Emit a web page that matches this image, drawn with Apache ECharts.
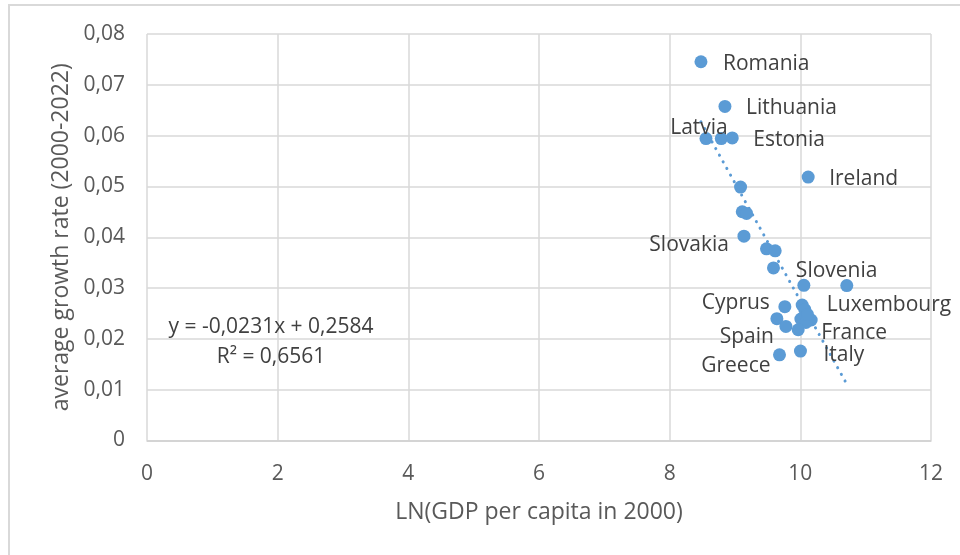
<!DOCTYPE html>
<html>
<head>
<meta charset="utf-8">
<script src="https://cdn.jsdelivr.net/npm/echarts@6/dist/echarts.min.js"></script>
<style>
html,body{margin:0;padding:0;background:#fff;}
#chart{width:960px;height:555px;}
</style>
</head>
<body>
<div id="chart"></div>
<script>
// LN(GDP per capita in 2000)
const xValues = [8.479, 8.846, 8.556, 8.790, 8.958, 10.120, 9.085, 9.111, 9.177, 9.137,
  9.482, 9.615, 9.589, 10.054, 10.711, 9.763, 10.028, 10.069, 9.641, 9.779,
  10.008, 10.166, 10.085, 9.967, 10.002, 9.681, 10.110];
// average growth rate (2000-2022)
const yValues = [0.07454, 0.06574, 0.05942, 0.05942, 0.05954, 0.05185, 0.04987, 0.04502, 0.04469, 0.04021,
  0.03772, 0.03733, 0.03397, 0.03054, 0.03048, 0.02634, 0.02667, 0.02575, 0.02397, 0.02245,
  0.02391, 0.02371, 0.02324, 0.02180, 0.01760, 0.01687, 0.02480];
const countryLabels = ['Romania', 'Lithuania', 'Latvia', '', 'Estonia', 'Ireland', '', '', '', 'Slovakia',
  '', '', '', 'Slovenia', 'Luxembourg', 'Cyprus', '', '', '', 'Spain',
  '', 'France', '', '', 'Italy', 'Greece', ''];
// trendline end points
const trendX = [8.479, 10.711];
const trendY = [0.0627, 0.0111];
const xTicks = ['0', '2', '4', '6', '8', '10', '12'];
const yTicks = ['0', '0,01', '0,02', '0,03', '0,04', '0,05', '0,06', '0,07', '0,08'];
const equationText = 'y = -0,0231x + 0,2584';
const r2Text = 'R² = 0,6561';

// label placement relative to the point centre (style only)
const labelPlace = {
  'Romania':   {align: 'left',   off: [22, 2]},
  'Lithuania': {align: 'left',   off: [21, 2]},
  'Latvia':    {align: 'center', off: [-7, -11]},
  'Estonia':   {align: 'left',   off: [21, 2]},
  'Ireland':   {align: 'left',   off: [21, 2]},
  'Slovakia':  {align: 'right',  off: [-15, 9]},
  'Slovenia':  {align: 'left',   off: [-8, -14]},
  'Luxembourg':{align: 'left',   off: [-20, 19]},
  'Cyprus':    {align: 'right',  off: [-15, -4]},
  'Spain':     {align: 'right',  off: [-12, 11]},
  'France':    {align: 'left',   off: [10, 13]},
  'Italy':     {align: 'left',   off: [23, 4]},
  'Greece':    {align: 'right',  off: [-9, 11]}
};

const FONT = 'Open Sans';
const SYM = 13;
const scatterData = xValues.map((x, i) => {
  const name = countryLabels[i];
  const item = {value: [x, yValues[i]], name: name};
  if (name) {
    const p = labelPlace[name];
    item.label = {
      show: true,
      formatter: name,
      position: [SYM / 2 + p.off[0], SYM / 2 + p.off[1]],
      align: p.align,
      verticalAlign: 'middle',
      color: '#404040',
      fontSize: 21,
      fontFamily: FONT
    };
  }
  return item;
});

const chart = echarts.init(document.getElementById('chart'), null, {renderer: 'canvas'});
chart.setOption({
  backgroundColor: '#fff',
  animation: false,
  grid: {left: 147, right: 29, top: 34, bottom: 114.5},
  xAxis: {
    type: 'value', min: 0, max: 12, interval: 2,
    name: 'LN(GDP per capita in 2000)',
    nameLocation: 'middle', nameGap: 60,
    nameTextStyle: {color: '#595959', fontSize: 23, fontFamily: FONT},
    axisLine: {show: true, lineStyle: {color: '#d0d0d0', width: 1.5}},
    axisTick: {show: false},
    axisLabel: {color: '#595959', fontSize: 21, fontFamily: FONT, margin: 23,
      formatter: v => xTicks[Math.round(v / 2)]},
    splitLine: {show: true, lineStyle: {color: '#d9d9d9', width: 1.5}}
  },
  yAxis: {
    type: 'value', min: 0, max: 0.08, interval: 0.01,
    name: 'average growth rate (2000-2022)',
    nameLocation: 'middle', nameGap: 73,
    nameTextStyle: {color: '#595959', fontSize: 23, fontFamily: FONT},
    axisLine: {show: false},
    axisTick: {show: false},
    axisLabel: {color: '#595959', fontSize: 21, fontFamily: FONT, margin: 22,
      padding: [4, 0, 0, 0],
      formatter: v => yTicks[Math.round(v * 100)]},
    splitLine: {show: true, lineStyle: {color: '#d9d9d9', width: 1.5}}
  },
  graphic: [
    {type: 'rect', shape: {x: 9, y: 5, width: 1100, height: 700}, z: -10,
      style: {fill: 'none', stroke: '#d9d9d9', lineWidth: 2}},
    {type: 'text', x: 271, y: 327, z: 10,
      style: {text: equationText, fill: '#404040', fontSize: 21, fontFamily: FONT, align: 'center', verticalAlign: 'middle'}},
    {type: 'text', x: 271, y: 357, z: 10,
      style: {text: r2Text, fill: '#404040', fontSize: 21, fontFamily: FONT, align: 'center', verticalAlign: 'middle'}}
  ],
  series: [
    {
      type: 'line',
      data: trendX.map((x, i) => [x, trendY[i]]),
      showSymbol: false, symbol: 'none',
      lineStyle: {color: '#5B9BD5', width: 3, type: [0.1, 7.5], cap: 'round'},
      z: 1, silent: true
    },
    {
      type: 'scatter',
      data: scatterData,
      symbol: 'circle', symbolSize: SYM,
      itemStyle: {color: '#5B9BD5', opacity: 1},
      label: {show: false},
      labelLayout: {hideOverlap: false},
      z: 2
    }
  ]
});
</script>
</body>
</html>
